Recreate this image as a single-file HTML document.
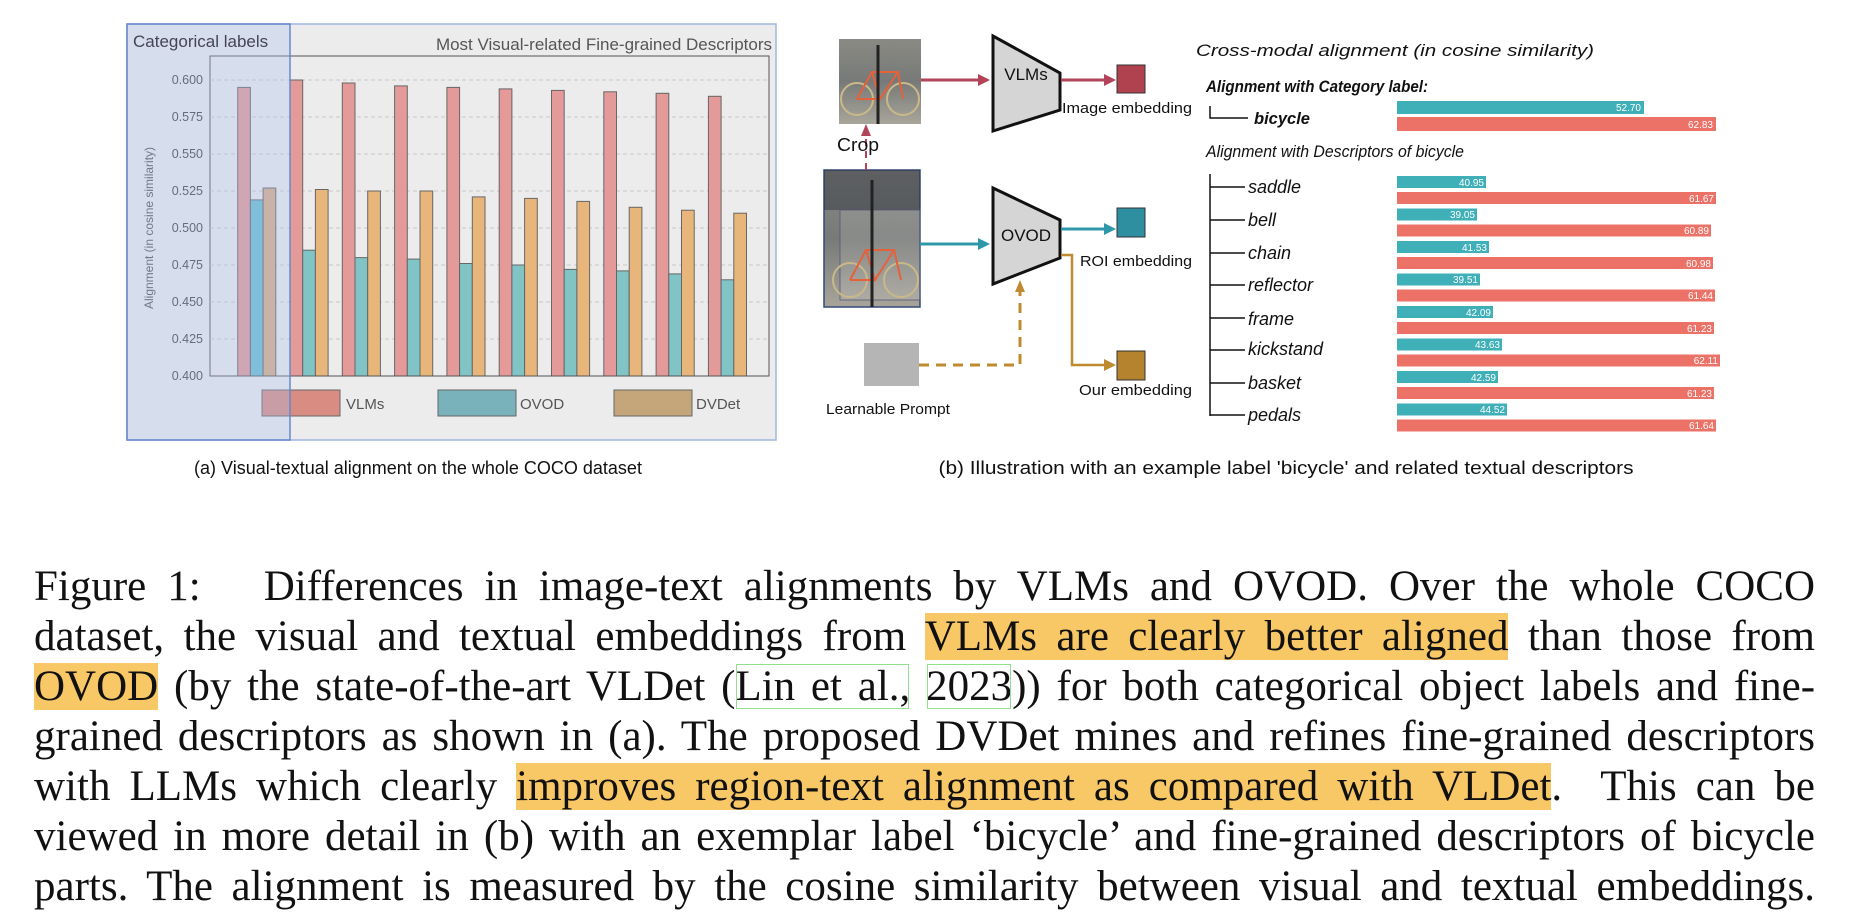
<!DOCTYPE html>
<html><head><meta charset="utf-8"><style>
html,body{margin:0;padding:0;background:#fff;}
body{width:1854px;height:916px;position:relative;overflow:hidden;}
svg{position:absolute;left:0;top:0;}
.cap{position:absolute;left:34px;width:1781px;font-family:"Liberation Serif",serif;font-size:43px;line-height:50px;height:50px;text-align:justify;text-align-last:justify;white-space:nowrap;color:#111;}
.hl{background:#f8c766;}
.ct{outline:1.5px solid #8fe08f;outline-offset:-2px;}
</style></head><body>
<svg width="1854" height="916" viewBox="0 0 1854 916" font-family="Liberation Sans, sans-serif">
<!-- Panel a -->
<rect x="127" y="24" width="649" height="416" fill="#ececec" stroke="#9fb6e2" stroke-width="1.5"/>
<rect x="210" y="56" width="559" height="320" fill="none" stroke="#555" stroke-width="1"/>
<g stroke="#c8c8c8" stroke-dasharray="4,3" stroke-width="1">
<line x1="210" x2="769" y1="80" y2="80"/><line x1="210" x2="769" y1="117" y2="117"/><line x1="210" x2="769" y1="154" y2="154"/><line x1="210" x2="769" y1="191" y2="191"/><line x1="210" x2="769" y1="228" y2="228"/><line x1="210" x2="769" y1="265" y2="265"/><line x1="210" x2="769" y1="302" y2="302"/><line x1="210" x2="769" y1="339" y2="339"/>
</g>
<g font-size="12.5" fill="#444" text-anchor="end">
<text x="203" y="84">0.600</text><text x="203" y="121">0.575</text><text x="203" y="158">0.550</text><text x="203" y="195">0.525</text><text x="203" y="232">0.500</text><text x="203" y="269">0.475</text><text x="203" y="306">0.450</text><text x="203" y="343">0.425</text><text x="203" y="380">0.400</text>
</g>
<text transform="translate(153,228) rotate(-90)" font-size="12" fill="#555" text-anchor="middle">Alignment (in cosine similarity)</text>
<g stroke="#666" stroke-width="1">
<g fill="#e39a98">
<rect x="237.7" y="87.4" width="12.7" height="288.6"/><rect x="290" y="80" width="12.7" height="296"/><rect x="342.3" y="83" width="12.7" height="293"/><rect x="394.6" y="85.9" width="12.7" height="290.1"/><rect x="446.9" y="87.4" width="12.7" height="288.6"/><rect x="499.2" y="88.9" width="12.7" height="287.1"/><rect x="551.5" y="90.4" width="12.7" height="285.6"/><rect x="603.8" y="91.8" width="12.7" height="284.2"/><rect x="656.1" y="93.3" width="12.7" height="282.7"/><rect x="708.4" y="96.3" width="12.7" height="279.7"/>
</g>
<g fill="#80c4c6">
<rect x="250.4" y="199.9" width="12.7" height="176.1" fill="#6cbfd0"/><rect x="302.7" y="250.2" width="12.7" height="125.8"/><rect x="355" y="257.6" width="12.7" height="118.4"/><rect x="407.3" y="259.1" width="12.7" height="116.9"/><rect x="459.6" y="263.5" width="12.7" height="112.5"/><rect x="511.9" y="265" width="12.7" height="111"/><rect x="564.2" y="269.4" width="12.7" height="106.6"/><rect x="616.5" y="270.9" width="12.7" height="105.1"/><rect x="668.8" y="273.9" width="12.7" height="102.1"/><rect x="721.1" y="279.8" width="12.7" height="96.2"/>
</g>
<g fill="#e8b67a">
<rect x="263.1" y="188" width="12.7" height="188" fill="#d8ae86"/><rect x="315.4" y="189.5" width="12.7" height="186.5"/><rect x="367.7" y="191" width="12.7" height="185"/><rect x="420" y="191" width="12.7" height="185"/><rect x="472.3" y="196.9" width="12.7" height="179.1"/><rect x="524.6" y="198.4" width="12.7" height="177.6"/><rect x="576.9" y="201.4" width="12.7" height="174.6"/><rect x="629.2" y="207.3" width="12.7" height="168.7"/><rect x="681.5" y="210.2" width="12.7" height="165.8"/><rect x="733.8" y="213.2" width="12.7" height="162.8"/>
</g>
</g>
<line x1="210" x2="769" y1="376" y2="376" stroke="#555"/>
<g stroke="#666" stroke-width="1">
<rect x="262" y="390" width="78" height="26" fill="#d98d82"/>
<rect x="438" y="390" width="78" height="26" fill="#7ab2bc"/>
<rect x="614" y="390" width="78" height="26" fill="#c4a67a"/>
</g>
<g font-size="15" fill="#555"><text x="346" y="409">VLMs</text><text x="520" y="409">OVOD</text><text x="696" y="409">DVDet</text></g>
<rect x="127" y="24" width="163" height="416" fill="rgba(170,190,240,0.33)" stroke="#6688cc" stroke-width="1.5"/>
<text x="133" y="47" font-size="17" fill="#445">Categorical labels</text>
<text x="772" y="50" font-size="17" fill="#555" text-anchor="end">Most Visual-related Fine-grained Descriptors</text>
<text x="418" y="474" font-size="18" fill="#111" text-anchor="middle">(a) Visual-textual alignment on the whole COCO dataset</text>

<!-- Panel b -->
<defs>
<linearGradient id="ph" x1="0" y1="0" x2="0" y2="1"><stop offset="0" stop-color="#8a8a84"/><stop offset="0.5" stop-color="#777a78"/><stop offset="1" stop-color="#a8a49a"/></linearGradient>
</defs>
<!-- crop image -->
<rect x="839" y="39" width="82" height="85" fill="url(#ph)"/>
<g fill="none" stroke="#c9b98a" stroke-width="2"><circle cx="857" cy="99" r="16"/><circle cx="903" cy="99" r="16"/></g>
<g fill="none" stroke="#e6603a" stroke-width="2"><path d="M857,99 L872,72 L898,72 L903,99 M872,72 L880,99 L898,72 M880,99 L857,99"/></g>
<line x1="878" y1="45" x2="878" y2="124" stroke="#222" stroke-width="3"/>
<!-- big image -->
<rect x="824" y="170" width="96" height="137" fill="url(#ph)" stroke="#334a7a" stroke-width="1.5"/>
<rect x="824" y="170" width="96" height="40" fill="rgba(40,45,55,0.45)"/>
<rect x="840" y="210" width="80" height="90" fill="rgba(255,255,255,0.12)" stroke="#557" stroke-width="0.8"/>
<g fill="none" stroke="#c9b98a" stroke-width="2"><circle cx="850" cy="280" r="17"/><circle cx="901" cy="280" r="17"/></g>
<g fill="none" stroke="#e6603a" stroke-width="2"><path d="M850,280 L866,250 L894,250 L901,280 M866,250 L875,280 L894,250 M875,280 L850,280"/></g>
<line x1="872" y1="180" x2="872" y2="307" stroke="#222" stroke-width="3"/>

<path d="M993,36 L1060,73 L1060,110 L993,131 Z" fill="#d5d5d5" stroke="#111" stroke-width="3"/>
<path d="M993,188 L1060,220 L1060,258 L993,284 Z" fill="#d5d5d5" stroke="#111" stroke-width="3"/>
<text x="1026" y="80" font-size="17" text-anchor="middle" fill="#111">VLMs</text>
<text x="1026" y="241" font-size="17" text-anchor="middle" fill="#111">OVOD</text>
<!-- arrows -->
<line x1="921" y1="80" x2="986" y2="80" stroke="#b24459" stroke-width="3"/>
<path d="M978,74 L990,80 L978,86 z" fill="#b24459"/>
<line x1="1061" y1="80" x2="1106" y2="80" stroke="#b24459" stroke-width="3"/>
<path d="M1104,74 L1116,80 L1104,86 z" fill="#b24459"/>
<line x1="866" y1="170" x2="866" y2="135" stroke="#b24459" stroke-width="2" stroke-dasharray="7,5"/>
<path d="M861,136 L866,124 L871,136 z" fill="#b24459"/>
<line x1="920" y1="244" x2="982" y2="244" stroke="#2e98aa" stroke-width="3"/>
<path d="M978,238 L990,244 L978,250 z" fill="#2e98aa"/>
<line x1="1061" y1="229" x2="1106" y2="229" stroke="#2e98aa" stroke-width="3"/>
<path d="M1104,223 L1116,229 L1104,235 z" fill="#2e98aa"/>
<path d="M1061,255 L1072,255 L1072,365 L1106,365" fill="none" stroke="#c08a30" stroke-width="2.5"/>
<path d="M1104,359 L1116,365 L1104,371 z" fill="#c08a30"/>
<path d="M919,365 L1020,365 L1020,292" fill="none" stroke="#c08a30" stroke-width="3" stroke-dasharray="10,7"/>
<path d="M1015,292 L1020,280 L1025,292 z" fill="#c08a30"/>
<!-- embeddings -->
<rect x="1117" y="65" width="28" height="28" fill="#b0414f" stroke="#333" stroke-width="1"/>
<rect x="1117" y="208" width="28" height="29" fill="#2e8fa0" stroke="#333" stroke-width="1"/>
<rect x="1117" y="351" width="28" height="29" fill="#b5822e" stroke="#333" stroke-width="1"/>
<rect x="864" y="343" width="55" height="43" fill="#b5b5b5"/>
<g font-size="15" fill="#111">
<text x="1062" y="113" textLength="130" lengthAdjust="spacingAndGlyphs">Image embedding</text>
<text x="1080" y="266" textLength="112" lengthAdjust="spacingAndGlyphs">ROI embedding</text>
<text x="1079" y="395" textLength="113" lengthAdjust="spacingAndGlyphs">Our embedding</text>
<text x="837" y="151" font-size="18" textLength="42" lengthAdjust="spacingAndGlyphs">Crop</text>
<text x="826" y="414" textLength="124" lengthAdjust="spacingAndGlyphs">Learnable Prompt</text>
</g>
<g fill="#111">
<text x="1196" y="56" font-size="17" font-style="italic" textLength="398" lengthAdjust="spacingAndGlyphs">Cross-modal alignment (in cosine similarity)</text>
<text x="1206" y="92" font-size="17" font-style="italic" font-weight="bold" textLength="222" lengthAdjust="spacingAndGlyphs">Alignment with Category label:</text>
<text x="1254" y="124" font-size="17" font-style="italic" font-weight="bold" textLength="56" lengthAdjust="spacingAndGlyphs">bicycle</text>
<text x="1206" y="157" font-size="17" font-style="italic" textLength="258" lengthAdjust="spacingAndGlyphs">Alignment with Descriptors of bicycle</text>
<g font-size="18" font-style="italic">
<text x="1248" y="193">saddle</text><text x="1248" y="226">bell</text><text x="1248" y="259">chain</text><text x="1248" y="291">reflector</text><text x="1248" y="325">frame</text><text x="1248" y="355">kickstand</text><text x="1248" y="389">basket</text><text x="1248" y="421">pedals</text>
</g>
</g>
<g stroke="#111" stroke-width="1.5" fill="none">
<path d="M1210,106 L1210,118 L1248,118"/>
<line x1="1210" y1="174" x2="1210" y2="416"/>
<line x1="1210" y1="187" x2="1245" y2="187"/><line x1="1210" y1="220" x2="1245" y2="220"/><line x1="1210" y1="253" x2="1245" y2="253"/><line x1="1210" y1="285" x2="1245" y2="285"/><line x1="1210" y1="318" x2="1245" y2="318"/><line x1="1210" y1="350" x2="1245" y2="350"/><line x1="1210" y1="383" x2="1245" y2="383"/><line x1="1210" y1="415" x2="1245" y2="415"/>
</g>
<g fill="#3fb0b8">
<rect x="1397" y="101" width="247" height="13"/>
<rect x="1397" y="176" width="89" height="12"/><rect x="1397" y="208.5" width="80" height="12"/><rect x="1397" y="241" width="92" height="12"/><rect x="1397" y="273.5" width="83" height="12"/><rect x="1397" y="306" width="96" height="12"/><rect x="1397" y="338.5" width="105" height="12"/><rect x="1397" y="371" width="101" height="12"/><rect x="1397" y="403.5" width="110" height="12"/>
</g>
<g fill="#ec7166">
<rect x="1397" y="117" width="319" height="14"/>
<rect x="1397" y="192" width="319" height="12"/><rect x="1397" y="224.5" width="314" height="12"/><rect x="1397" y="257" width="316" height="12"/><rect x="1397" y="289.5" width="318" height="12"/><rect x="1397" y="322" width="317" height="12"/><rect x="1397" y="354.5" width="323" height="12"/><rect x="1397" y="387" width="317" height="12"/><rect x="1397" y="419.5" width="319" height="12"/>
</g>
<g font-size="10" fill="#fff" text-anchor="end">
<text x="1641" y="111">52.70</text><text x="1713" y="128">62.83</text>
<text x="1484" y="186">40.95</text><text x="1714" y="202">61.67</text>
<text x="1475" y="218">39.05</text><text x="1709" y="234">60.89</text>
<text x="1487" y="251">41.53</text><text x="1711" y="267">60.98</text>
<text x="1478" y="283">39.51</text><text x="1713" y="299">61.44</text>
<text x="1491" y="316">42.09</text><text x="1712" y="332">61.23</text>
<text x="1500" y="348">43.63</text><text x="1718" y="364">62.11</text>
<text x="1496" y="381">42.59</text><text x="1712" y="397">61.23</text>
<text x="1505" y="413">44.52</text><text x="1714" y="429">61.64</text>
</g>
<text x="1286" y="474" font-size="18" fill="#111" text-anchor="middle" textLength="695" lengthAdjust="spacingAndGlyphs">(b) Illustration with an example label 'bicycle' and related textual descriptors</text>
</svg>

<div class="cap" style="top:562px">Figure 1: &nbsp; Differences in image-text alignments by VLMs and OVOD. Over the whole COCO</div>
<div class="cap" style="top:612px">dataset, the visual and textual embeddings from <span class="hl">VLMs are clearly better aligned</span> than those from</div>
<div class="cap" style="top:662px"><span class="hl">OVOD</span> (by the state-of-the-art VLDet (<span class="ct">Lin et al.,</span> <span class="ct">2023</span>)) for both categorical object labels and fine-</div>
<div class="cap" style="top:712px">grained descriptors as shown in (a). The proposed DVDet mines and refines fine-grained descriptors</div>
<div class="cap" style="top:762px">with LLMs which clearly <span class="hl">improves region-text alignment as compared with VLDet</span>. &nbsp;This can be</div>
<div class="cap" style="top:812px">viewed in more detail in (b) with an exemplar label ‘bicycle’ and fine-grained descriptors of bicycle</div>
<div class="cap" style="top:862px">parts. The alignment is measured by the cosine similarity between visual and textual embeddings.</div>
</body></html>
